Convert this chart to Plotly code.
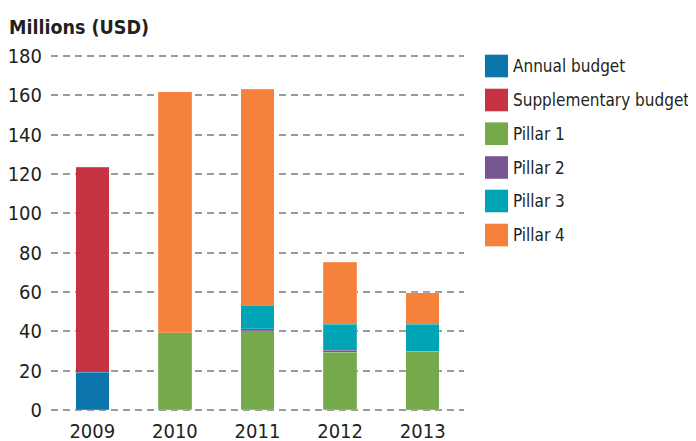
import plotly.graph_objects as go

years = ["2009", "2010", "2011", "2012", "2013"]
annual_budget = [19.0, None, None, None, None]
supplementary_budget = [104.5, None, None, None, None]
pillar1 = [None, 39.3, 40.3, 29.3, 29.8]
pillar2 = [None, None, 0.9, 1.0, None]
pillar3 = [None, None, 12.1, 13.2, 13.7]
pillar4 = [None, 122.7, 109.9, 31.7, 16.1]
y_ticks = [0, 20, 40, 60, 80, 100, 120, 140, 160, 180]

series_names = ["Annual budget", "Supplementary budget", "Pillar 1", "Pillar 2", "Pillar 3", "Pillar 4"]
series_values = [annual_budget, supplementary_budget, pillar1, pillar2, pillar3, pillar4]
colors = ["#0D75AD", "#C63343", "#74A94C", "#765593", "#00A5B5", "#F4823A"]

W, H = 696, 441
OFF = 8  # the page body margin shifts the figure by 8 px

def f(p):
    return p - OFF

# plot area in screen px: y=0 at 410, y=180 at 56, x from 51 to 464
PAD = 0.6
UNIT = (410 - 56) / 180.0
L = f(51)
R = W - f(464)
T = int(round(f(56) - PAD * UNIT))
B = int(round(H - (f(410) + PAD * UNIT)))
pw, ph = W - L - R, H - T - B

FONT = "DejaVu Sans Condensed, Liberation Sans Narrow, Arial Narrow, sans-serif"

fig = go.Figure()
for name, vals, col in zip(series_names, series_values, colors):
    fig.add_trace(go.Bar(
        x=years, y=vals, name=name,
        marker=dict(color=col, line=dict(color="rgba(255,255,255,0.35)", width=0.5)),
        showlegend=False,
    ))

def px_x(p):
    return (f(p) - L) / pw

def px_y(p):
    return (H - B - f(p)) / ph

shapes = []
annotations = []
row_centers = [66, 100, 133.7, 167.5, 201, 235]
for name, col, cy in zip(series_names, colors, row_centers):
    shapes.append(dict(type="rect", xref="paper", yref="paper",
                       x0=px_x(485), x1=px_x(508), y0=px_y(cy + 11.3), y1=px_y(cy - 11.3),
                       fillcolor=col, line=dict(width=0)))
    annotations.append(dict(text=name, xref="paper", yref="paper", x=px_x(511), y=px_y(cy),
                            xanchor="left", yanchor="middle", showarrow=False,
                            font=dict(family=FONT, size=17, color="#231F20")))

annotations.append(dict(text="<b>Millions (USD)</b>", xref="paper", yref="paper",
                        x=px_x(7), y=px_y(27), xanchor="left", yanchor="middle", showarrow=False,
                        font=dict(family=FONT, size=19.5, color="#231F20")))

fig.update_layout(
    width=W, height=H,
    margin=dict(l=L, r=R, t=T, b=B, pad=0, autoexpand=False),
    barmode="stack", bargap=0.595,
    plot_bgcolor="white", paper_bgcolor="white",
    shapes=shapes, annotations=annotations,
    font=dict(family=FONT, size=20, color="#231F20"),
)
fig.update_xaxes(showgrid=False, showline=False, ticks="", tickfont=dict(size=20),
                 ticklabelstandoff=6, automargin=False)
fig.update_yaxes(range=[-PAD, 180 + PAD], tickvals=y_ticks, showgrid=True, gridcolor="#9B9B9B",
                 gridwidth=1.5, griddash="7px,5px", zeroline=False, showline=False, ticks="",
                 tickfont=dict(size=20), ticklabelstandoff=8, automargin=False)

fig.write_html("out.html")
